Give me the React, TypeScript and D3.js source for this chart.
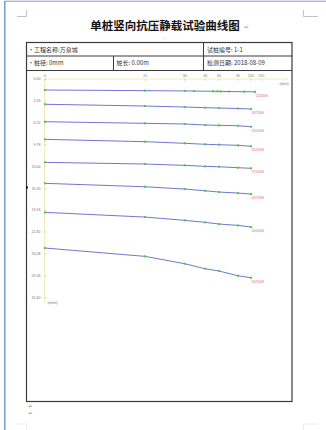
import React from "react";
import * as d3 from "d3";

const TITLE = "单桩竖向抗压静载试验曲线图";
const INFO_ROW1 = ["•工程名称:万泉城", "试桩编号: 1-1"];
const INFO_ROW2 = ["•桩径: 0mm", "桩长: 0.00m", "检测日期: 2018-08-09"];

const X_TICKS = [0, 15, 30, 45, 60, 90, 120, 150];
const Y_TICKS = [0, 3.26, 6.52, 9.78, 13.04, 16.3, 19.56, 22.82, 26.08, 29.34, 32.6];

const LOADS = ["1250kN", "1875kN", "2500kN", "3125kN", "3750kN", "4375kN", "5000kN", "5625kN"];

const TIMES_STD = [0, 15, 30, 45, 60, 90, 120];
const TIMES_FIRST = [0, 15, 30, 36, 53, 58, 62, 74, 103, 131];

const S1 = [1.64, 1.74, 1.78, 1.8, 1.83, 1.84, 1.85, 1.87, 1.89, 1.91];
const S2 = [3.77, 4.03, 4.18, 4.28, 4.33, 4.4, 4.48];
const S3 = [6.37, 6.61, 6.71, 6.86, 6.91, 6.97, 7.12];
const S4 = [9.0, 9.35, 9.59, 9.74, 9.8, 9.89, 10.04];
const S5 = [12.43, 12.68, 12.88, 13.03, 13.09, 13.23, 13.32];
const S6 = [15.56, 16.07, 16.41, 16.67, 16.86, 17.01, 17.16];
const S7 = [19.89, 20.59, 21.08, 21.38, 21.63, 21.83, 22.08];
const S8 = [25.21, 26.45, 27.55, 28.3, 28.64, 29.34, 29.64];

const SERIES = [S1, S2, S3, S4, S5, S6, S7, S8];

export default function App() {
  const W = 326;
  const H = 430;
  const xLog = d3.scaleLog().domain([1, 263]).range([45, 287]);
  const xPos = (t: number) => xLog(Math.max(1, t - 5));
  const y = d3.scaleLinear().domain([0, 32.6]).range([79, 297.6]);
  const line = d3
    .line<[number, number]>()
    .x((d) => xPos(d[0]))
    .y((d) => y(d[1]));

  const cjk = "'Noto Sans CJK SC', 'Noto Sans', sans-serif";
  const sans = "'Liberation Sans', 'DejaVu Sans', sans-serif";
  const axisColor = "#efe6a8";

  return (
    <svg
      width={W}
      height={H}
      style={{ position: "absolute", left: 0, top: 0, display: "block", background: "#fff" }}
    >
      {/* page frame */}
      <line x1={4.8} y1={1} x2={4.8} y2={H} stroke="#6f9bd8" strokeWidth={1.5} />
      <line x1={4.8} y1={1.2} x2={W} y2={1.2} stroke="#7aa3dc" strokeWidth={1} />
      {/* corner marks */}
      <path d="M17,16.5 H26.5 V10" fill="none" stroke="#999" strokeWidth={0.6} />
      <path d="M303.5,10 V16.5 H318" fill="none" stroke="#999" strokeWidth={0.6} />
      <path d="M17,424 H26.5 V430" fill="none" stroke="#ddd" strokeWidth={0.6} />
      <path d="M303.5,430 V424 H318" fill="none" stroke="#ddd" strokeWidth={0.6} />

      {/* title */}
      <text x={165} y={29.5} textAnchor="middle" fontFamily={cjk} fontWeight={700} fontSize={11.5} fill="#111">
        {TITLE}
      </text>
      <text x={244} y={29} fontFamily={sans} fontSize={6} fill="#999">↵</text>
      <text x={163} y={39} fontFamily={sans} fontSize={3.5} fill="#999">.↓</text>

      {/* outer box */}
      <rect x={26.5} y={42.5} width={265.5} height={359} fill="none" stroke="#3a3a3a" strokeWidth={1.2} />
      <line x1={26.5} y1={56} x2={292} y2={56} stroke="#3a3a3a" strokeWidth={1} />
      <line x1={26.5} y1={70.5} x2={292} y2={70.5} stroke="#3a3a3a" strokeWidth={1} />
      <line x1={203.5} y1={42.5} x2={203.5} y2={70.5} stroke="#3a3a3a" strokeWidth={1} />
      <line x1={113.5} y1={56} x2={113.5} y2={70.5} stroke="#3a3a3a" strokeWidth={1} />

      <g fontFamily={cjk} fontSize={6} fill="#333">
        <text x={28} y={51.5}>{INFO_ROW1[0]}</text>
        <text x={207} y={51.5}>{INFO_ROW1[1]}</text>
        <text x={28} y={65}>{INFO_ROW2[0]}</text>
        <text x={116.5} y={65}>{INFO_ROW2[1]}</text>
        <text x={207} y={65}>{INFO_ROW2[2]}</text>
      </g>

      {/* axes */}
      <line x1={44.5} y1={y(0)} x2={287} y2={y(0)} stroke={axisColor} strokeWidth={0.8} />
      <line x1={44.5} y1={y(0)} x2={44.5} y2={y(32.6) + 5.5} stroke={axisColor} strokeWidth={0.8} />
      <g fontFamily={sans} fontSize={3.6} fill="#777">
        {X_TICKS.map((t) => (
          <g key={"xt" + t}>
            <line x1={xPos(t)} y1={y(0)} x2={xPos(t)} y2={y(0) + 2} stroke="#999" strokeWidth={0.4} />
            <text x={xPos(t)} y={77} textAnchor="middle">{t}</text>
          </g>
        ))}
        <line x1={287} y1={y(0) - 1} x2={287} y2={y(0) + 1} stroke="#bbb" strokeWidth={0.4} />
        <text x={284} y={84.5} textAnchor="middle">t(min)</text>
        {Y_TICKS.map((v) => (
          <g key={"yt" + v}>
            <line x1={44.5} y1={y(v)} x2={46.5} y2={y(v)} stroke="#999" strokeWidth={0.4} />
            <text x={40.5} y={y(v) + 1.2} textAnchor="end">{v.toFixed(2)}</text>
          </g>
        ))}
        <text x={47.5} y={304} textAnchor="start">s(mm)</text>
      </g>

      {/* curves */}
      {SERIES.map((s, i) => {
        const times = i === 0 ? TIMES_FIRST : TIMES_STD;
        const pts: [number, number][] = s.map((v, j) => [times[j], v]);
        const last = pts[pts.length - 1];
        return (
          <g key={"c" + i}>
            <path d={line(pts) || ""} fill="none" stroke="#7474d8" strokeWidth={1} />
            {pts.map((p, j) => (
              <rect key={j} x={xPos(p[0]) - 1} y={y(p[1]) - 1} width={2} height={2} fill="#3fcf3f" />
            ))}
            <text
              x={xPos(last[0]) + 0.5}
              y={y(last[1]) + 5}
              fontFamily={sans}
              fontSize={3.6}
              fill="#e06a6a"
            >
              {LOADS[i]}
            </text>
          </g>
        );
      })}

      {/* paragraph marks */}
      <rect x={26} y={186.5} width={2} height={2} fill="#111" />
      <text x={28.5} y={408} fontFamily={sans} fontSize={5} fill="#888">↵</text>
      <text x={28.5} y={415} fontFamily={sans} fontSize={5} fill="#888">↵</text>
    </svg>
  );
}
